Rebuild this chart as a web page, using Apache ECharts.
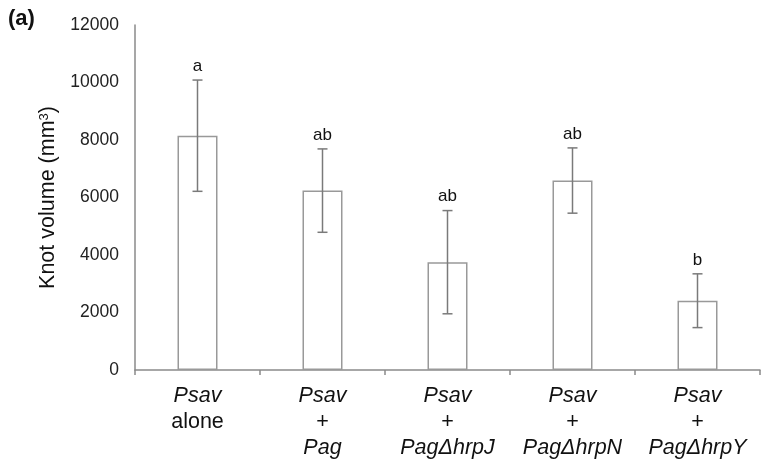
<!DOCTYPE html>
<html>
<head>
<meta charset="utf-8">
<script src="https://cdn.jsdelivr.net/npm/echarts@6/dist/echarts.min.js"></script>
<style>html,body{margin:0;padding:0;background:#fff}#c{width:762px;height:460px}</style>
</head>
<body>
<div id="c"></div>
<script>
var line1 = ['Psav', 'Psav', 'Psav', 'Psav', 'Psav'];
var line2 = ['alone', '+', '+', '+', '+'];
var line3 = ['', 'Pag', 'Pag\u0394hrpJ', 'Pag\u0394hrpN', 'Pag\u0394hrpY'];
var means = [8150, 6240, 3750, 6590, 2410];
var errors = [1935, 1450, 1795, 1135, 935];
var letters = ['a', 'ab', 'ab', 'ab', 'b'];
var yTicks = { min: 0, max: 12000, interval: 2000 };

var categories = line1.map(function (v, i) { return String(i); });
var errData = means.map(function (m, i) { return [i, m - errors[i], m + errors[i]]; });

var FONT = "'Liberation Sans', Arial, Helvetica, sans-serif";
var chart = echarts.init(document.getElementById('c'));
chart.setOption({
  animation: false,
  backgroundColor: '#fff',
  graphic: [{
    type: 'text', left: 8, top: 8,
    style: { text: '(a)', font: 'bold 22px ' + FONT, fill: '#111' }
  }],
  grid: { left: 135, right: 2, top: 25, bottom: 90, containLabel: false },
  xAxis: {
    type: 'category',
    data: categories,
    boundaryGap: true,
    axisLine: { lineStyle: { color: '#8a8a8a', width: 1.5 } },
    axisTick: { show: true, length: 5, lineStyle: { color: '#8a8a8a', width: 1.5 } },
    axisLabel: {
      margin: 13,
      interval: 0,
      formatter: function (v) {
        var i = +v;
        var s = '{i|' + line1[i] + '}\n{n|' + line2[i] + '}';
        if (line3[i]) s += '\n{i|' + line3[i] + '}';
        return s;
      },
      rich: {
        i: { fontFamily: FONT, fontSize: 21.5, fontStyle: 'italic', color: '#111', lineHeight: 26 },
        n: { fontFamily: FONT, fontSize: 21.5, color: '#111', lineHeight: 26 }
      }
    }
  },
  yAxis: {
    type: 'value',
    min: yTicks.min, max: yTicks.max, interval: yTicks.interval,
    name: 'Knot volume (mm{s|3})',
    nameLocation: 'middle',
    nameGap: 67,
    nameRotate: 90,
    nameTextStyle: {
      fontFamily: FONT, fontSize: 21.5, color: '#111',
      rich: { s: { fontFamily: FONT, fontSize: 13, color: '#111', verticalAlign: 'top', padding: [0, 0, 9, 0] } }
    },
    splitLine: { show: false },
    axisTick: { show: false },
    axisLine: { show: true, lineStyle: { color: '#8a8a8a', width: 1.5 } },
    axisLabel: {
      fontFamily: FONT, fontSize: 17.5, color: '#222', margin: 16,
      formatter: function (v) { return String(v); }
    }
  },
  series: [{
    type: 'bar',
    data: means,
    barWidth: 40,
    itemStyle: { color: '#fff', borderColor: '#999', borderWidth: 1.5 },
    z: 2
  }, {
    type: 'custom',
    data: errData,
    z: 3,
    renderItem: function (params, api) {
      var i = api.value(0);
      var lo = api.coord([i, api.value(1)]);
      var hi = api.coord([i, api.value(2)]);
      var x = lo[0];
      var cap = 5;
      var ls = { stroke: '#7a7a7a', lineWidth: 1.5 };
      return {
        type: 'group',
        children: [
          { type: 'line', shape: { x1: x, y1: lo[1], x2: x, y2: hi[1] }, style: ls },
          { type: 'line', shape: { x1: x - cap, y1: lo[1], x2: x + cap, y2: lo[1] }, style: ls },
          { type: 'line', shape: { x1: x - cap, y1: hi[1], x2: x + cap, y2: hi[1] }, style: ls },
          { type: 'text', style: { text: letters[params.dataIndex], x: x, y: hi[1] - 14,
              textAlign: 'center', textVerticalAlign: 'middle', font: '17px ' + FONT, fill: '#111' } }
        ]
      };
    }
  }]
});
</script>
</body>
</html>
